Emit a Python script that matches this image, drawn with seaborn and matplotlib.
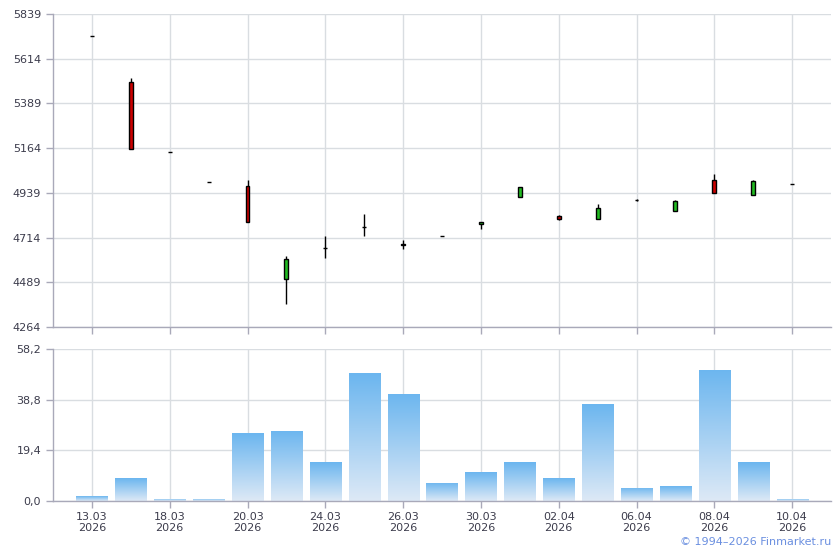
import matplotlib
matplotlib.use("Agg")
import matplotlib.pyplot as plt
import seaborn as sns
import numpy as np
import pandas as pd

# trading days
dates = ["13.03", "17.03", "18.03", "19.03", "20.03", "23.03", "24.03", "25.03",
         "26.03", "27.03", "30.03", "31.03", "02.04", "03.04", "06.04", "07.04",
         "08.04", "09.04", "10.04"]
year = "2026"

opens = [5728, 5497, 5143, 4992, 4972, 4504, 4663, 4766, 4680, 4720,
         4782, 4920, 4823, 4809, 4902, 4849, 5002, 4930, 4982]
highs = [5728, 5515, 5143, 4992, 5002, 4621, 4722, 4833, 4702, 4720,
         4792, 4967, 4828, 4883, 4908, 4903, 5034, 5004, 4982]
lows = [5728, 5158, 5143, 4992, 4791, 4378, 4613, 4723, 4655, 4720,
        4759, 4920, 4802, 4809, 4896, 4849, 4937, 4930, 4982]
closes = [5728, 5158, 5143, 4992, 4791, 4605, 4663, 4766, 4676, 4720,
          4792, 4967, 4809, 4861, 4902, 4897, 4937, 4997, 4982]

volumes = [1.9, 8.8, 0.8, 0.8, 26.0, 26.9, 14.9, 49.0, 41.0, 6.9,
           11.1, 14.9, 8.8, 37.1, 5.0, 5.7, 50.2, 14.9, 0.8]

price_ticks = [4264, 4489, 4714, 4939, 5164, 5389, 5614, 5839]
vol_ticks = [0.0, 19.4, 38.8, 58.2]

grid_c = "#d9dde1"
spine_c = "#a9a9b9"
text_c = "#3c3c4c"

sns.set_theme(style="white")
plt.rcParams["font.family"] = ["DejaVu Sans"]

fig = plt.figure(figsize=(8.4, 5.5), dpi=100)
ax1 = fig.add_axes([53 / 840, 1 - 327 / 550, 778 / 840, 313 / 550])
ax2 = fig.add_axes([53 / 840, 1 - 501 / 550, 778 / 840, 152 / 550])

n = len(dates)
x = np.arange(n)

# candles
for i in range(n):
    o, h, l, c = opens[i], highs[i], lows[i], closes[i]
    ax1.vlines(i, l, h, color="black", lw=1, zorder=3)
    col = "#22bb22" if c > o else ("#cc0000" if c < o else "black")
    ax1.bar(i, abs(c - o), bottom=min(o, c), width=0.1, color=col,
            edgecolor="black", linewidth=1, zorder=4)

# volume bars
df = pd.DataFrame({"pos": x, "vol": volumes})
sns.barplot(data=df, x="pos", y="vol", order=list(x), width=0.8, ax=ax2,
            color="#79bcf0", saturation=1, zorder=2)
grad = np.linspace(0, 1, 100).reshape(-1, 1)
cmap = matplotlib.colors.LinearSegmentedColormap.from_list(
    "vol", ["#dde9f6", "#6cb6ef"])
for p in ax2.patches:
    x0, y0 = p.get_x(), p.get_y()
    w, hgt = p.get_width(), p.get_height()
    p.set_facecolor("none")
    p.set_edgecolor("none")
    im = ax2.imshow(grad, extent=[x0, x0 + w, y0, y0 + hgt], origin="lower",
                    cmap=cmap, aspect="auto", zorder=2)
    im.set_clip_path(p)

for ax in (ax1, ax2):
    ax.set_xlim(-1, n)
    ax.set_xticks(x[::2])
    ax.grid(True, color=grid_c, lw=1, zorder=0)
    ax.set_axisbelow(True)
    for s in ("top", "right"):
        ax.spines[s].set_visible(False)
    for s in ("left", "bottom"):
        ax.spines[s].set_color(spine_c)
        ax.spines[s].set_linewidth(1)
    ax.tick_params(axis="both", colors=spine_c, labelcolor=text_c,
                   length=5, width=1, labelsize=8, direction="out",
                   left=True, bottom=True)
    ax.set_xlabel("")
    ax.set_ylabel("")

ax1.set_ylim(price_ticks[0], price_ticks[-1])
ax1.set_yticks(price_ticks)
ax1.set_yticklabels([str(t) for t in price_ticks])
ax1.set_xticklabels([])

ax2.set_ylim(vol_ticks[0], vol_ticks[-1])
ax2.set_yticks(vol_ticks)
ax2.set_yticklabels([f"{t:.1f}".replace(".", ",") for t in vol_ticks])
ax2.set_xticklabels([f"{dates[i]}\n{year}" for i in x[::2]], linespacing=1.1)
ax2.tick_params(axis="x", pad=3)

fig.text(831 / 840, 1 - 542 / 550, "© 1994–2026 Finmarket.ru",
         ha="right", va="center", fontsize=8, color="#6a8fe0")

fig.savefig("out.png", dpi=100)
